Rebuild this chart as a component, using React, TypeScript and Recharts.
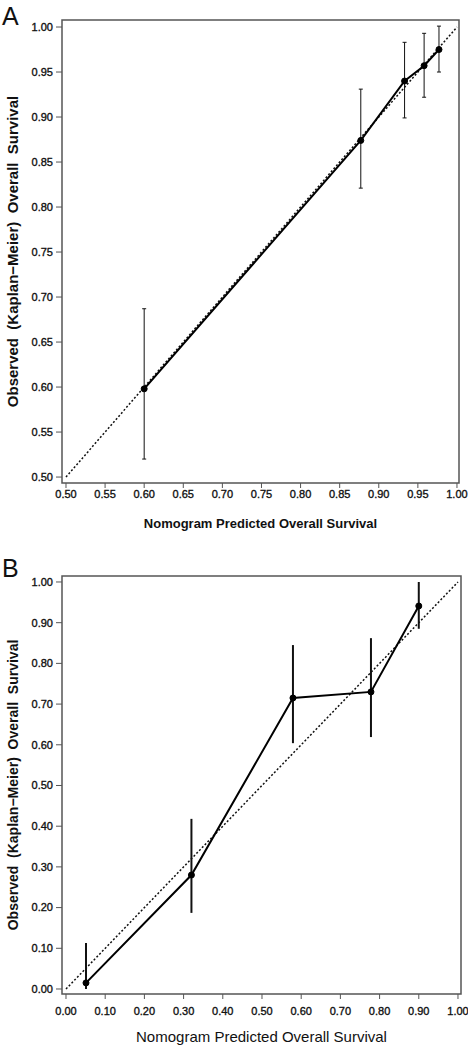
import type React from "react"
import { ComposedChart, Line, XAxis, YAxis, ErrorBar, ReferenceLine, ReferenceArea } from "recharts"

// Panel A – calibration, high survival range
const predictedA = [0.6, 0.877, 0.933, 0.958, 0.977]
const observedA = [0.598, 0.874, 0.94, 0.957, 0.975]
const lowerA = [0.52, 0.821, 0.899, 0.922, 0.95]
const upperA = [0.687, 0.931, 0.983, 0.993, 1.001]
const ticksA = [0.5, 0.55, 0.6, 0.65, 0.7, 0.75, 0.8, 0.85, 0.9, 0.95, 1.0]

// Panel B – calibration, full range
const predictedB = [0.051, 0.32, 0.579, 0.778, 0.9]
const observedB = [0.015, 0.28, 0.715, 0.73, 0.941]
const lowerB = [0.0, 0.187, 0.604, 0.619, 0.885]
const upperB = [0.113, 0.418, 0.845, 0.862, 1.0]
const ticksB = [0, 0.1, 0.2, 0.3, 0.4, 0.5, 0.6, 0.7, 0.8, 0.9, 1.0]

const X_TITLE = "Nomogram Predicted Overall Survival"
const Y_TITLE = "Observed\u00a0 (Kaplan\u2212Meier)\u00a0 Overall\u00a0 Survival"

const FONT = "'Liberation Sans', Arial, sans-serif"
const TICK_STYLE = { fontSize: 11, fill: "#111", stroke: "#111", strokeWidth: 0.35 }

const buildRows = (xs: number[], ys: number[], lo: number[], hi: number[]) =>
  xs.map((x, i) => ({ x, y: ys[i], err: [ys[i] - lo[i], hi[i] - ys[i]] }))

interface PanelProps {
  rows: { x: number; y: number; err: number[] }[]
  ticks: number[]
  xDomain: [number, number]
  yDomain: [number, number]
  diag: [number, number]
  height: number
  margin: { top: number; right: number; bottom: number; left: number }
  xAxisHeight: number
  xTickSize: number
  xTickMargin: number
  xTitleOffset: number
  xTitleStyle: React.CSSProperties
  yTitleStyle: React.CSSProperties
  errWidth: number
  errStroke: number
}

const Panel: React.FC<PanelProps> = (p) => (
  <ComposedChart width={468} height={p.height} data={p.rows} margin={p.margin}>
    <ReferenceArea
      x1={p.xDomain[0]}
      x2={p.xDomain[1]}
      y1={p.yDomain[0]}
      y2={p.yDomain[1]}
      fill="none"
      fillOpacity={0}
      stroke="#555"
      strokeWidth={1.5}
    />
    <XAxis
      dataKey="x"
      type="number"
      domain={p.xDomain}
      allowDataOverflow
      ticks={p.ticks}
      interval={0}
      tickFormatter={(v: number) => v.toFixed(2)}
      axisLine={false}
      tickLine={{ stroke: "#555" }}
      tickSize={p.xTickSize}
      tickMargin={p.xTickMargin}
      height={p.xAxisHeight}
      tick={TICK_STYLE}
      label={{ value: X_TITLE, position: "insideBottom", offset: p.xTitleOffset, style: p.xTitleStyle }}
    />
    <YAxis
      type="number"
      domain={p.yDomain}
      allowDataOverflow
      ticks={p.ticks}
      interval={0}
      tickFormatter={(v: number) => v.toFixed(2)}
      axisLine={false}
      tickLine={{ stroke: "#555" }}
      tickSize={6}
      tickMargin={3}
      width={62}
      tick={TICK_STYLE}
      label={{ value: Y_TITLE, angle: -90, position: "insideLeft", offset: 13, style: p.yTitleStyle }}
    />
    <ReferenceLine
      segment={[
        { x: p.diag[0], y: p.diag[0] },
        { x: p.diag[1], y: p.diag[1] },
      ]}
      stroke="#111"
      strokeWidth={1.5}
      strokeDasharray="2 2"
    />
    <Line
      type="linear"
      dataKey="y"
      stroke="#000"
      strokeWidth={2}
      dot={{ r: 3, fill: "#000", stroke: "#000", strokeWidth: 1 }}
      isAnimationActive={false}
    >
      <ErrorBar dataKey="err" direction="y" width={p.errWidth} stroke="#111" strokeWidth={p.errStroke} />
    </Line>
  </ComposedChart>
)

export default function App() {
  const rowsA = buildRows(predictedA, observedA, lowerA, upperA)
  const rowsB = buildRows(predictedB, observedB, lowerB, upperB)

  return (
    <div style={{ position: "absolute", top: 0, left: 0, width: 468, height: 1050, background: "#fff", fontFamily: FONT }}>
      <div style={{ position: "absolute", left: 2, top: 4, fontSize: 25, lineHeight: "25px", color: "#111" }}>A</div>
      <div style={{ position: "absolute", left: 2, top: 556, fontSize: 25, lineHeight: "25px", color: "#111" }}>B</div>
      <div style={{ position: "absolute", top: 0, left: 0 }}>
        <Panel
          rows={rowsA}
          ticks={ticksA}
          xDomain={[0.4949, 1.0026]}
          yDomain={[0.4934, 1.0078]}
          diag={[0.5, 1.0]}
          height={540}
          margin={{ top: 20, right: 9, bottom: 0, left: 0 }}
          xAxisHeight={57}
          xTickSize={5}
          xTickMargin={2}
          xTitleOffset={12}
          xTitleStyle={{ fontSize: 13, fontWeight: 700, fill: "#111", textAnchor: "middle" }}
          yTitleStyle={{ fontSize: 15, fontWeight: 700, fill: "#111", textAnchor: "middle" }}
          errWidth={2}
          errStroke={1}
        />
      </div>
      <div style={{ position: "absolute", top: 540, left: 0 }}>
        <Panel
          rows={rowsB}
          ticks={ticksB}
          xDomain={[-0.0102, 1.0077]}
          yDomain={[-0.0123, 1.0147]}
          diag={[0, 1.0]}
          height={510}
          margin={{ top: 36, right: 7, bottom: 0, left: 0 }}
          xAxisHeight={56}
          xTickSize={5}
          xTickMargin={8}
          xTitleOffset={8}
          xTitleStyle={{ fontSize: 15, fontWeight: 400, fill: "#111", textAnchor: "middle" }}
          yTitleStyle={{ fontSize: 14, fontWeight: 700, fill: "#111", textAnchor: "middle" }}
          errWidth={0}
          errStroke={2}
        />
      </div>
    </div>
  )
}
